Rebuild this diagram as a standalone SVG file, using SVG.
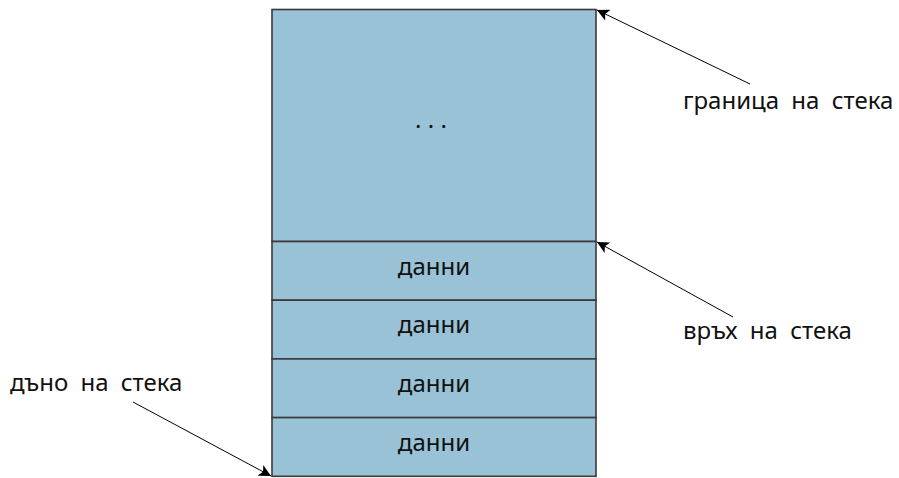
<svg xmlns="http://www.w3.org/2000/svg" width="899" height="478" viewBox="0 0 899 478">
<style>
.cell{fill:#9ac2d6;stroke:#3a3a3a;stroke-width:1.6}
.t{font-family:"Noto Sans","Open Sans","DejaVu Sans",sans-serif;font-size:24px;fill:#111}
.l{word-spacing:6px}
.c{text-anchor:middle}
.a{stroke:#000;stroke-width:1;fill:none;marker-end:url(#ah)}
</style>
<defs>
<marker id="ah" markerWidth="14" markerHeight="12" refX="12" refY="6" orient="auto" markerUnits="userSpaceOnUse">
<path d="M0,0 L12,6 L0,12 L3,6 Z" fill="#000"/>
</marker>
</defs>
<g id="top-region"><rect class="cell" x="272" y="9.5" width="324" height="232"/><text class="t c" x="431" y="128">. . .</text></g>
<g id="data1"><rect class="cell" x="272" y="241.5" width="324" height="58.7"/><text class="t c" x="434" y="274.5">данни</text></g>
<g id="data2"><rect class="cell" x="272" y="300.2" width="324" height="58.7"/><text class="t c" x="434" y="333.2">данни</text></g>
<g id="data3"><rect class="cell" x="272" y="358.9" width="324" height="58.7"/><text class="t c" x="434" y="391.9">данни</text></g>
<g id="data4"><rect class="cell" x="272" y="417.6" width="324" height="58.7"/><text class="t c" x="434" y="450.6">данни</text></g>
<g id="label-limit"><text class="t l" x="683" y="108.5">граница на стека</text></g>
<g id="label-top"><text class="t l" x="683" y="339">връх на стека</text></g>
<g id="label-bottom"><text class="t l" x="10" y="391">дъно на стека</text></g>
<g id="connectors">
<line class="a" x1="750" y1="84" x2="597" y2="10"/>
<line class="a" x1="733" y1="317" x2="597" y2="242"/>
<line class="a" x1="133" y1="402" x2="271" y2="476"/>
</g>
</svg>
